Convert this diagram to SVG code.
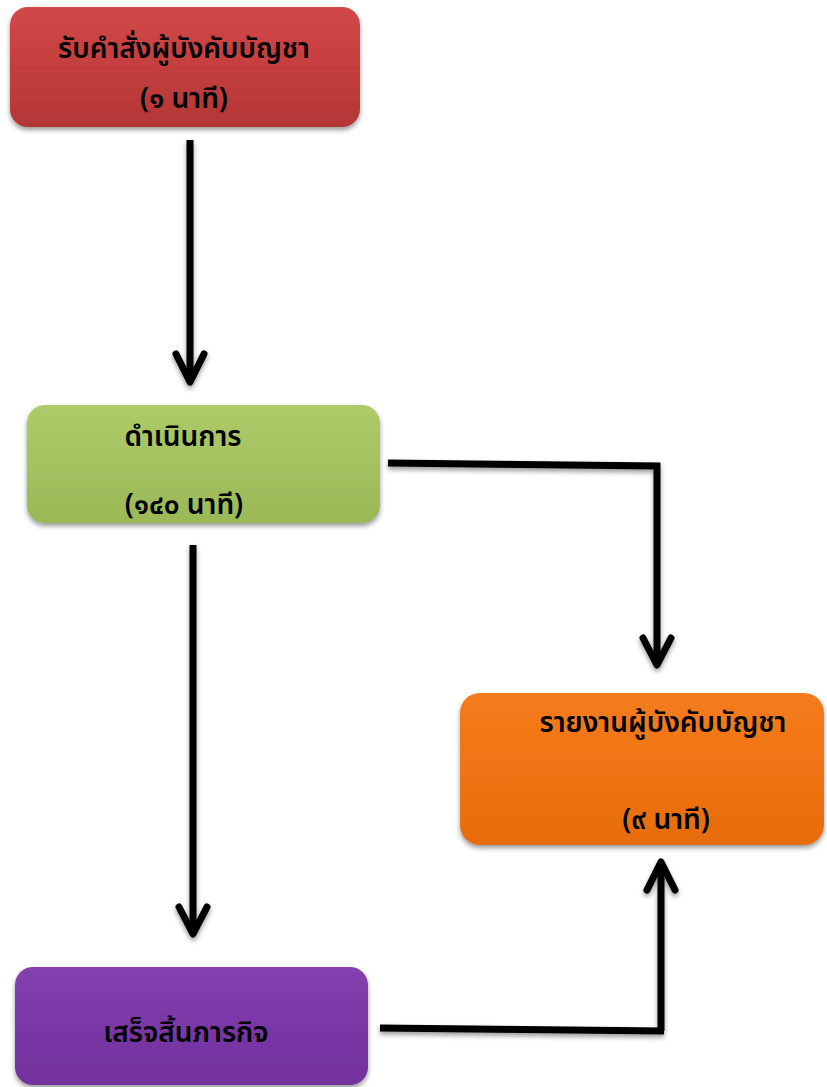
<svg xmlns="http://www.w3.org/2000/svg" width="827" height="1087" viewBox="0 0 827 1087">
<defs>
<style>
.t{font-family:"Noto Sans Thai","Noto Sans","DejaVu Sans",sans-serif;font-size:28px;font-weight:600;fill:#000;text-anchor:middle}
.ln{fill:none;stroke:#000;stroke-width:7}
.hd{fill:none;stroke:#000;stroke-width:7;stroke-linecap:round;stroke-linejoin:round}
</style>
<linearGradient id="gr" x1="0" y1="0" x2="0" y2="1"><stop offset="0" stop-color="#D24848"/><stop offset="0.5" stop-color="#C43E3E"/><stop offset="1" stop-color="#B43636"/></linearGradient>
<linearGradient id="gg" x1="0" y1="0" x2="0" y2="1"><stop offset="0" stop-color="#ACCB68"/><stop offset="0.5" stop-color="#A4C260"/><stop offset="1" stop-color="#9AB856"/></linearGradient>
<linearGradient id="go" x1="0" y1="0" x2="0" y2="1"><stop offset="0" stop-color="#F47C1E"/><stop offset="0.5" stop-color="#F07412"/><stop offset="1" stop-color="#E66C10"/></linearGradient>
<linearGradient id="gp" x1="0" y1="0" x2="0" y2="1"><stop offset="0" stop-color="#8440AE"/><stop offset="0.5" stop-color="#7A37A6"/><stop offset="1" stop-color="#72329C"/></linearGradient>
<filter id="sh" x="-10%" y="-10%" width="120%" height="130%"><feDropShadow dx="0" dy="3" stdDeviation="2.5" flood-color="#000" flood-opacity="0.4"/></filter>
</defs>
<g id="connectors" filter="url(#sh)">
<path class="ln" d="M190 140 V382"/>
<path class="hd" d="M176 354 L190 382 L204 354"/>
<path class="ln" d="M388 463 L657 466 V665"/>
<path class="hd" d="M643 638 L657 665 L671 638"/>
<path class="ln" d="M193 545 V934"/>
<path class="hd" d="M179 907 L193 934 L207 907"/>
<path class="ln" d="M380 1028 L664 1031"/>
<path class="ln" d="M661 1031 V862"/>
<path class="hd" d="M647 890 L661 862 L675 890"/>
</g>
<g id="n1">
<rect x="10" y="7" width="350" height="120" rx="18" fill="url(#gr)" filter="url(#sh)"/>
<text class="t" x="184" y="58">รับคำสั่งผู้บังคับบัญชา</text>
<text class="t" x="184" y="108">(๑ นาที)</text>
</g>
<g id="n2">
<rect x="27" y="405" width="353" height="118" rx="18" fill="url(#gg)" filter="url(#sh)"/>
<text class="t" x="183" y="446">ดำเนินการ</text>
<text class="t" x="184" y="514">(๑๔๐ นาที)</text>
</g>
<g id="n3">
<rect x="460" y="693" width="364" height="152" rx="20" fill="url(#go)" filter="url(#sh)"/>
<text class="t" x="663" y="732">รายงานผู้บังคับบัญชา</text>
<text class="t" x="666" y="829">(๙ นาที)</text>
</g>
<g id="n4">
<rect x="15" y="967" width="353" height="118" rx="18" fill="url(#gp)" filter="url(#sh)"/>
<text class="t" x="186" y="1042">เสร็จสิ้นภารกิจ</text>
</g>
</svg>
